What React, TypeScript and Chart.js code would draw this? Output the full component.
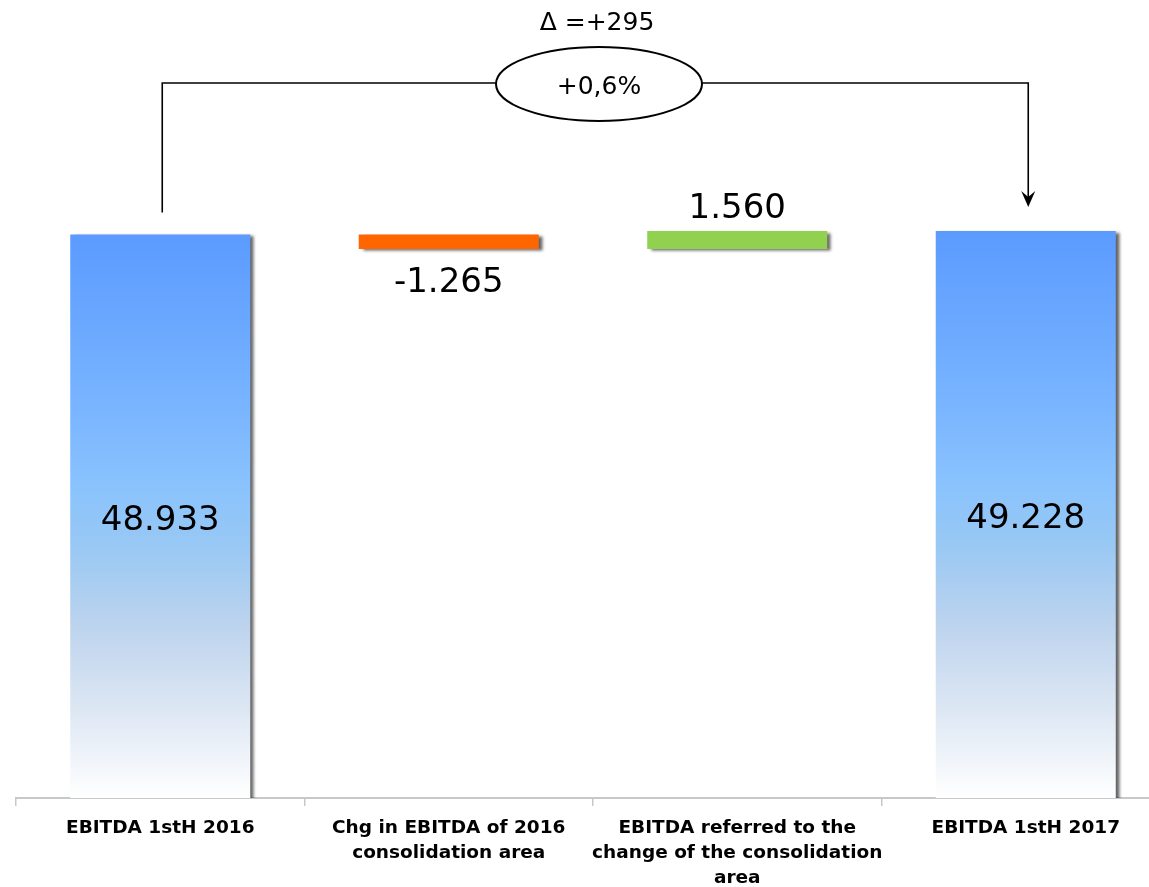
import React, { useEffect, useRef } from "react";
import { Chart, registerables } from "chart.js";

Chart.register(...registerables);

// ---- data ----
const categories: string[][] = [
  ["EBITDA 1stH 2016"],
  ["Chg in EBITDA of 2016", "consolidation area"],
  ["EBITDA referred to the", "change of the consolidation", "area"],
  ["EBITDA 1stH 2017"],
];
const values = [48933, -1265, 1560, 49228];
const isTotal = [true, false, false, true];
const valueLabels = ["48.933", "-1.265", "1.560", "49.228"];
const deltaLabel = "\u0394 =+295";
const pctLabel = "+0,6%";
const yMax = 60000;

const deltaColors = { neg: "#FF6600", pos: "#92D050" };

function buildRanges(): [number, number][] {
  let run = 0;
  return values.map((v, i) => {
    if (isTotal[i]) {
      run = v;
      return [0, v] as [number, number];
    }
    const s = run;
    run += v;
    return [s, run] as [number, number];
  });
}

const FONT = '"DejaVu Sans", Verdana, sans-serif';

const shadowPlugin = {
  id: "barShadow",
  beforeDatasetDraw(chart: any) {
    const ctx = chart.ctx;
    ctx.save();
    ctx.shadowColor = "rgba(0,0,0,0.6)";
    ctx.shadowOffsetX = 4;
    ctx.shadowOffsetY = 2;
    ctx.shadowBlur = 3;
  },
  afterDatasetDraw(chart: any) {
    chart.ctx.restore();
  },
};

const annotatePlugin = {
  id: "annotate",
  afterDatasetsDraw(chart: any) {
    const ctx = chart.ctx;
    const meta = chart.getDatasetMeta(0);
    const els = meta.data;
    ctx.save();
    ctx.fillStyle = "#000";
    ctx.textAlign = "center";
    ctx.textBaseline = "middle";
    ctx.font = `34px ${FONT}`;
    els.forEach((el: any, i: number) => {
      const p = el.getProps(["x", "y", "base"], true);
      const top = Math.min(p.y, p.base);
      const bottom = Math.max(p.y, p.base);
      if (isTotal[i]) {
        ctx.fillText(valueLabels[i], p.x, (top + bottom) / 2 + 5);
      } else if (values[i] < 0) {
        ctx.fillText(valueLabels[i], p.x, bottom + 34);
      } else {
        ctx.fillText(valueLabels[i], p.x, top - 22);
      }
    });

    // connector
    const a = els[0].getProps(["x", "y"], true);
    const b = els[els.length - 1].getProps(["x", "y"], true);
    const xL = a.x + 2;
    const xR = b.x + 2.5;
    const yLine = 83;
    const cx = (a.x + b.x) / 2 + 6;
    const cy = 84;
    const rx = 103;
    const ry = 37;
    ctx.strokeStyle = "#000";
    ctx.lineWidth = 1.6;
    ctx.beginPath();
    ctx.moveTo(xL, a.y - 22);
    ctx.lineTo(xL, yLine);
    ctx.lineTo(cx - rx, yLine);
    ctx.moveTo(cx + rx, yLine);
    ctx.lineTo(xR, yLine);
    const tipY = b.y - 24;
    ctx.lineTo(xR, tipY - 6);
    ctx.stroke();
    // arrow head
    ctx.beginPath();
    ctx.moveTo(xR, tipY);
    ctx.lineTo(xR - 7, tipY - 16);
    ctx.lineTo(xR, tipY - 10);
    ctx.lineTo(xR + 7, tipY - 16);
    ctx.closePath();
    ctx.fillStyle = "#000";
    ctx.fill();
    // ellipse
    ctx.beginPath();
    ctx.ellipse(cx, cy, rx, ry, 0, 0, Math.PI * 2);
    ctx.fillStyle = "#fff";
    ctx.fill();
    ctx.lineWidth = 2;
    ctx.stroke();
    ctx.fillStyle = "#000";
    ctx.font = `25px ${FONT}`;
    ctx.fillText(pctLabel, cx, cy + 3);
    ctx.fillText(deltaLabel, cx - 2, 23);
    ctx.restore();
  },
};

export default function App() {
  const ref = useRef<HTMLCanvasElement | null>(null);

  useEffect(() => {
    if (!ref.current) return;
    const ranges = buildRanges();
    const chart = new Chart(ref.current, {
      type: "bar",
      data: {
        labels: categories,
        datasets: [
          {
            data: ranges as any,
            clip: 0 as any,
            borderWidth: 0,
            categoryPercentage: 1,
            barPercentage: 0.624,
            backgroundColor: (c: any) => {
              const i = c.dataIndex;
              if (!isTotal[i]) return values[i] < 0 ? deltaColors.neg : deltaColors.pos;
              const ch = c.chart;
              const ca = ch.chartArea;
              if (!ca) return "#5E9DFF";
              const yTop = ch.scales.y.getPixelForValue(values[i]);
              const g = ch.ctx.createLinearGradient(0, yTop, 0, ca.bottom);
              g.addColorStop(0, "#5B9BFF");
              g.addColorStop(0.3, "#78B4FF");
              g.addColorStop(0.45, "#8AC3FD");
              g.addColorStop(0.55, "#98C8F4");
              g.addColorStop(0.7, "#BED4EE");
              g.addColorStop(0.85, "#DEE8F4");
              g.addColorStop(1, "#FFFFFF");
              return g;
            },
          },
        ],
      },
      options: {
        animation: false,
        responsive: false,
        layout: { padding: { left: 16, right: 10, top: 107, bottom: 0 } },
        plugins: {
          legend: { display: false },
          tooltip: { enabled: false },
        },
        scales: {
          x: {
            offset: true,
            grid: {
              offset: true,
              drawOnChartArea: false,
              drawTicks: true,
              tickLength: 8,
              color: "#C8C8C8",
              lineWidth: 1.5,
            },
            border: { display: true, color: "#C8C8C8", width: 2 },
            ticks: {
              autoSkip: false,
              maxRotation: 0,
              minRotation: 0,
              padding: 9.5,
              color: "#000",
              font: { family: FONT, size: 18.5, weight: "bold", lineHeight: "25px" } as any,
            },
          },
          y: {
            display: false,
            min: 0,
            max: yMax,
          },
        },
      },
      plugins: [shadowPlugin, annotatePlugin],
    });
    return () => chart.destroy();
  }, []);

  return (
    <div
      style={{
        position: "absolute",
        left: 0,
        top: 0,
        width: 1149,
        height: 887,
        overflow: "hidden",
        background: "#fff",
      }}
    >
      <canvas ref={ref} width={1180} height={900} style={{ display: "block" }} />
    </div>
  );
}
